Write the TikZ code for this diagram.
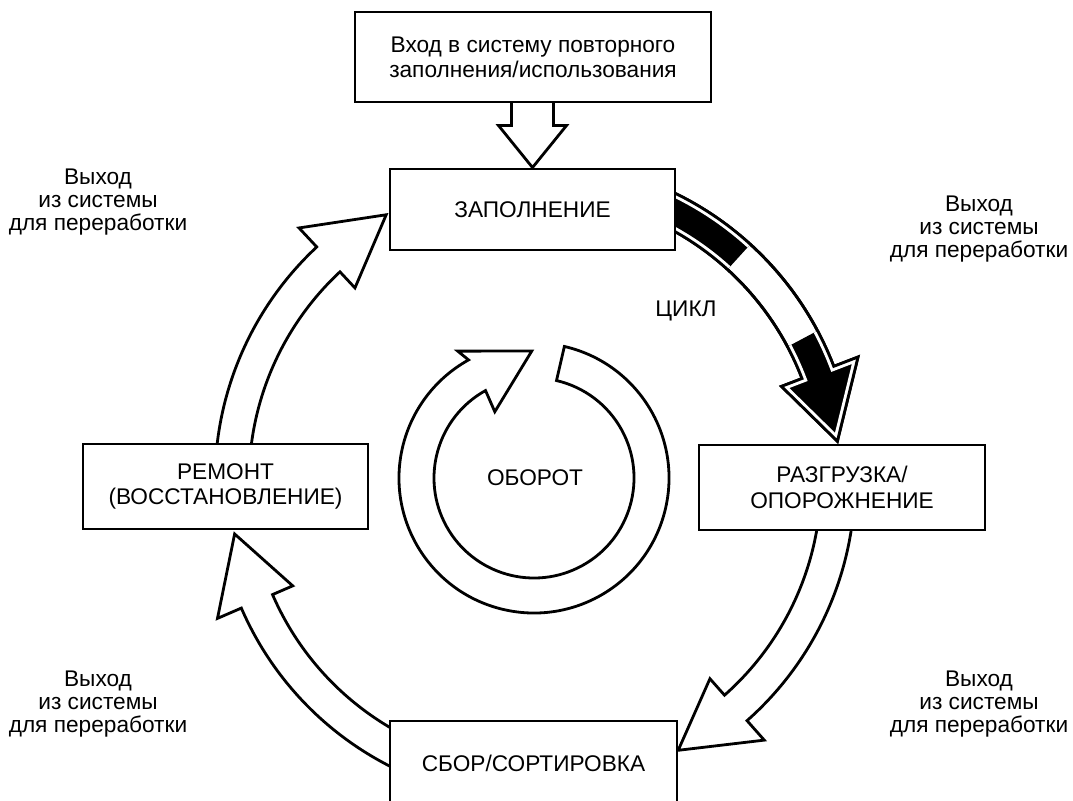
\documentclass[tikz,border=0pt]{standalone}
\usepackage{fontspec}
\setmainfont{Liberation Sans}
% ring arrow: #2 start angle, #3 head base angle, #4 tip angle (clockwise)
\newcommand{\RingArrow}[4][]{%
  \path[#1] (#2:320) arc[start angle=#2, end angle=#3, radius=320]
    -- (#3:346) -- (#4:305) -- (#3:264) -- (#3:286)
    arc[start angle=#3, end angle=#2, radius=286] -- cycle;}
\begin{document}
\begin{tikzpicture}[x=0.75pt,y=0.75pt,
  box/.style={draw, line width=2.2pt, fill=white, align=center, inner sep=0pt,
    font=\fontsize{17}{19}\selectfont},
  lbl/.style={align=center, inner sep=0pt, font=\fontsize{17}{17.5}\selectfont},
  arr/.style={draw, line width=2.1pt, fill=white, line join=miter},
  inset/.style={fill=black, draw=white, line width=6.5pt, line join=miter}]
\useasboundingbox (0,0) rectangle (1073,800);

% ---------- ring arrows ----------
\begin{scope}[shift={(535,319)}]
  % black (partly filled) arrow
  \RingArrow[arr]{70}{21}{7.5}
  \begin{scope}
    \RingArrow[clip]{70}{21}{7.5}
    \begin{scope}
      \clip (0,0) -- (47.7:420) arc[start angle=47.7, end angle=85, radius=420] -- cycle;
      \RingArrow[inset]{70}{21}{7.5}
    \end{scope}
    \begin{scope}
      \clip (0,0) -- (28:420) arc[start angle=28, end angle=-10, radius=420] -- cycle;
      \RingArrow[inset]{70}{21}{7.5}
    \end{scope}
  \end{scope}
  \RingArrow[draw, line width=2.1pt, line join=miter]{70}{21}{7.5}
  % white arrows
  \RingArrow[arr]{-3}{-48.5}{-62}
  \RingArrow[arr]{-110}{-156.6}{-170}
  \RingArrow[arr]{180}{133}{119.2}
\end{scope}

% ---------- turnover circular arrow ----------
\begin{scope}[shift={(534,322)}]
  \draw[arr] (77:135) arc[start angle=77, end angle=-241, radius=135]
    -- (121:148) -- (91:127) -- (120.6:77) -- (-241:100)
    arc[start angle=-241, end angle=77, radius=100] -- cycle;
\end{scope}
\node[lbl] (turn) at (535,322) {ОБОРОТ};

% ---------- boxes ----------
\node[box, minimum width=213.75pt, minimum height=60.75pt] (zap) at (532.5,590.5) {ЗАПОЛНЕНИЕ};
\node[box, minimum width=214.5pt, minimum height=63.75pt] (razg) at (842,312.5) {РАЗГРУЗКА/\\ОПОРОЖНЕНИЕ};
\node[box, minimum width=213.75pt, minimum height=63.75pt] (rem) at (225.5,313.5) {РЕМОНТ\\(ВОССТАНОВЛЕНИЕ)};
\node[box, minimum width=215.25pt, minimum height=63.75pt] (sbor) at (533.5,36.5) {СБОР/СОРТИРОВКА};

% input arrow and box
\draw[arr, shift={(zap.north)}] (-21,75) -- (-21,42) -- (-34,42) -- (0,0) -- (34,42) -- (21,42) -- (21,75) -- cycle;
\node[box, minimum width=267pt, minimum height=67.5pt] (inbox) at (533,743)
  {Вход в систему повторного\\заполнения/использования};

% ---------- labels ----------
\node[lbl] (lt) at (98,598) {Выход\\из системы\\для переработки};
\node[lbl] (rt) at (979,571) {Выход\\из системы\\для переработки};
\node[lbl] (lb) at (98,96) {Выход\\из системы\\для переработки};
\node[lbl] (rb) at (979,96) {Выход\\из системы\\для переработки};
\node[lbl] (cycle) at (686,489) {ЦИКЛ};
\end{tikzpicture}
\end{document}
